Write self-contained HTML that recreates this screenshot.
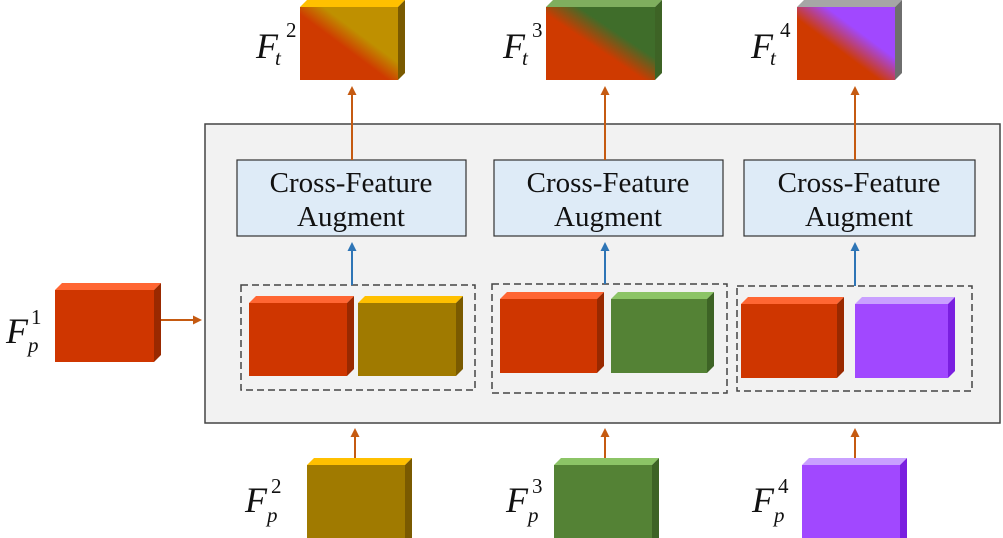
<!DOCTYPE html>
<html><head><meta charset="utf-8"><style>
html,body{margin:0;padding:0;background:#fff;}
svg{display:block;}
.t{font-family:"Liberation Serif",serif;font-size:29px;fill:#111;}
.m{font-family:"Liberation Serif",serif;font-style:italic;font-size:36px;fill:#111;}
.s{font-family:"Liberation Serif",serif;font-size:21px;fill:#111;}
.si{font-family:"Liberation Serif",serif;font-style:italic;font-size:21px;fill:#111;}
</style></head><body>
<svg width="1003" height="538" viewBox="0 0 1003 538" xmlns="http://www.w3.org/2000/svg">
<defs>
<linearGradient id="g2" x1="0" y1="1" x2="1" y2="0"><stop offset="0.45" stop-color="#cf3a00"/><stop offset="0.62" stop-color="#bf9000"/></linearGradient>
<linearGradient id="g3" x1="0" y1="1" x2="1" y2="0"><stop offset="0.45" stop-color="#cf3a00"/><stop offset="0.65" stop-color="#3f6d2a"/></linearGradient>
<linearGradient id="g4" x1="0" y1="1" x2="1" y2="0"><stop offset="0.42" stop-color="#cf3a00"/><stop offset="0.65" stop-color="#a148ff"/></linearGradient>
<marker id="ao" markerUnits="userSpaceOnUse" markerWidth="10" markerHeight="10" refX="2" refY="5" orient="auto"><path d="M0,0.5 L9,5 L0,9.5 z" fill="#c55a11"/></marker>
<marker id="ab" markerUnits="userSpaceOnUse" markerWidth="10" markerHeight="10" refX="2" refY="5" orient="auto"><path d="M0,0.5 L9,5 L0,9.5 z" fill="#2e75b6"/></marker>
</defs>

<rect x="205" y="124" width="795" height="299" fill="#f2f2f2" stroke="#444" stroke-width="1.5"/>

<g>
<rect x="237" y="160" width="229" height="76" fill="#deebf7" stroke="#333" stroke-width="1.2"/>
<text class="t" x="351" y="192" text-anchor="middle">Cross-Feature</text>
<text class="t" x="351" y="226" text-anchor="middle">Augment</text>
<rect x="494" y="160" width="229" height="76" fill="#deebf7" stroke="#333" stroke-width="1.2"/>
<text class="t" x="608" y="192" text-anchor="middle">Cross-Feature</text>
<text class="t" x="608" y="226" text-anchor="middle">Augment</text>
<rect x="744" y="160" width="231" height="76" fill="#deebf7" stroke="#333" stroke-width="1.2"/>
<text class="t" x="859" y="192" text-anchor="middle">Cross-Feature</text>
<text class="t" x="859" y="226" text-anchor="middle">Augment</text>
</g>

<rect x="241" y="285" width="234" height="105" fill="none" stroke="#444" stroke-width="1.5" stroke-dasharray="7,4"/>
<rect x="492" y="284" width="235" height="109" fill="none" stroke="#444" stroke-width="1.5" stroke-dasharray="7,4"/>
<rect x="737" y="286" width="235" height="105" fill="none" stroke="#444" stroke-width="1.5" stroke-dasharray="7,4"/>

<polygon points="249,303 256,296 354,296 347,303" fill="#ff6633"/><polygon points="347,303 354,296 354,369 347,376" fill="#992900"/><rect x="249" y="303" width="98" height="73" fill="#cf3600"/>
<polygon points="358,303 365,296 463,296 456,303" fill="#ffc000"/><polygon points="456,303 463,296 463,369 456,376" fill="#7a5a00"/><rect x="358" y="303" width="98" height="73" fill="#a07a00"/>
<polygon points="500,299 507,292 604,292 597,299" fill="#ff6633"/><polygon points="597,299 604,292 604,366 597,373" fill="#992900"/><rect x="500" y="299" width="97" height="74" fill="#cf3600"/>
<polygon points="611,299 618,292 714,292 707,299" fill="#8cc466"/><polygon points="707,299 714,292 714,366 707,373" fill="#3d6325"/><rect x="611" y="299" width="96" height="74" fill="#548235"/>
<polygon points="741,304 748,297 844,297 837,304" fill="#ff6633"/><polygon points="837,304 844,297 844,371 837,378" fill="#992900"/><rect x="741" y="304" width="96" height="74" fill="#cf3600"/>
<polygon points="855,304 862,297 955,297 948,304" fill="#c9a0ff"/><polygon points="948,304 955,297 955,371 948,378" fill="#7a1fe0"/><rect x="855" y="304" width="93" height="74" fill="#a148ff"/>

<polygon points="55,290 62,283 161,283 154,290" fill="#ff6633"/><polygon points="154,290 161,283 161,355 154,362" fill="#992900"/><rect x="55" y="290" width="99" height="72" fill="#cf3600"/>
<text class="m" x="6" y="343">F</text><text class="s" x="31" y="324">1</text><text class="si" x="28" y="352">p</text>
<line x1="161" y1="320" x2="195" y2="320" stroke="#c55a11" stroke-width="2" marker-end="url(#ao)"/>

<polygon points="300,7 307,0 405,0 398,7" fill="#ffc000"/><polygon points="398,7 405,0 405,73 398,80" fill="#7a5a00"/><rect x="300" y="7" width="98" height="73" fill="url(#g2)"/>
<polygon points="546,7 553,0 662,0 655,7" fill="#7fae5e"/><polygon points="655,7 662,0 662,73 655,80" fill="#3d6325"/><rect x="546" y="7" width="109" height="73" fill="url(#g3)"/>
<polygon points="797,7 804,0 902,0 895,7" fill="#a6a6a6"/><polygon points="895,7 902,0 902,73 895,80" fill="#6e6e6e"/><rect x="797" y="7" width="98" height="73" fill="url(#g4)"/>
<text class="m" x="256" y="58">F</text><text class="s" x="286" y="37">2</text><text class="si" x="275" y="65">t</text>
<text class="m" x="503" y="58">F</text><text class="s" x="532" y="37">3</text><text class="si" x="522" y="65">t</text>
<text class="m" x="751" y="58">F</text><text class="s" x="780" y="37">4</text><text class="si" x="770" y="65">t</text>

<line x1="352" y1="160" x2="352" y2="93" stroke="#c55a11" stroke-width="2" marker-end="url(#ao)"/>
<line x1="605" y1="160" x2="605" y2="93" stroke="#c55a11" stroke-width="2" marker-end="url(#ao)"/>
<line x1="855" y1="160" x2="855" y2="93" stroke="#c55a11" stroke-width="2" marker-end="url(#ao)"/>
<line x1="352" y1="285" x2="352" y2="249" stroke="#2e75b6" stroke-width="2" marker-end="url(#ab)"/>
<line x1="605" y1="284" x2="605" y2="249" stroke="#2e75b6" stroke-width="2" marker-end="url(#ab)"/>
<line x1="855" y1="286" x2="855" y2="249" stroke="#2e75b6" stroke-width="2" marker-end="url(#ab)"/>

<polygon points="307,465 314,458 412,458 405,465" fill="#ffc000"/><polygon points="405,465 412,458 412,538 405,538" fill="#7a5a00"/><rect x="307" y="465" width="98" height="73" fill="#a07a00"/>
<polygon points="554,465 561,458 659,458 652,465" fill="#8cc466"/><polygon points="652,465 659,458 659,538 652,538" fill="#3d6325"/><rect x="554" y="465" width="98" height="73" fill="#548235"/>
<polygon points="802,465 809,458 907,458 900,465" fill="#c9a0ff"/><polygon points="900,465 907,458 907,538 900,538" fill="#7a1fe0"/><rect x="802" y="465" width="98" height="73" fill="#a148ff"/>
<text class="m" x="245" y="512">F</text><text class="s" x="271" y="493">2</text><text class="si" x="267" y="522">p</text>
<text class="m" x="506" y="512">F</text><text class="s" x="532" y="493">3</text><text class="si" x="528" y="522">p</text>
<text class="m" x="752" y="512">F</text><text class="s" x="778" y="493">4</text><text class="si" x="774" y="522">p</text>

<line x1="355" y1="458" x2="355" y2="435" stroke="#c55a11" stroke-width="2" marker-end="url(#ao)"/>
<line x1="605" y1="458" x2="605" y2="435" stroke="#c55a11" stroke-width="2" marker-end="url(#ao)"/>
<line x1="855" y1="458" x2="855" y2="435" stroke="#c55a11" stroke-width="2" marker-end="url(#ao)"/>
</svg>
</body></html>
